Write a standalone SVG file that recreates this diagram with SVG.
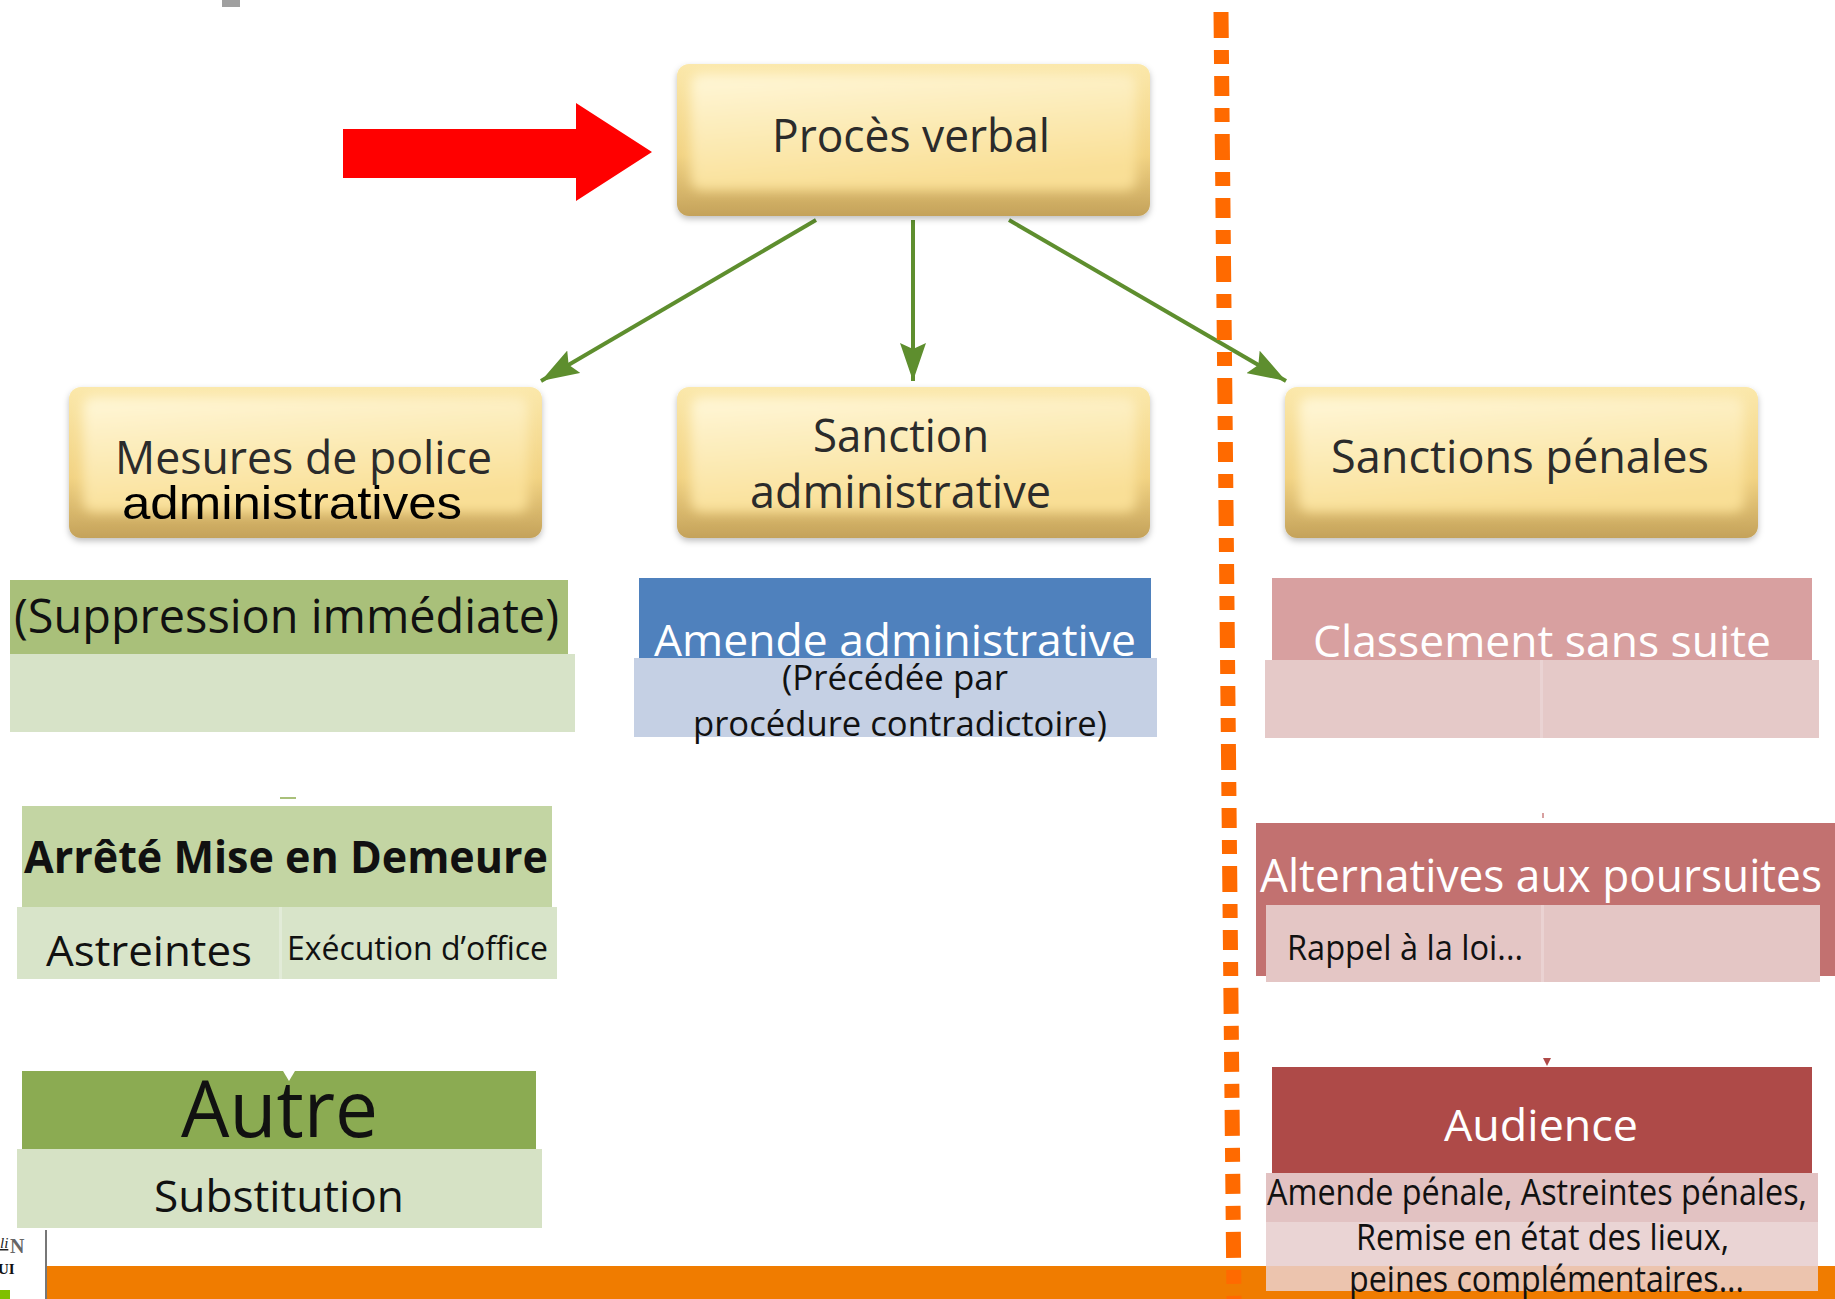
<svg xmlns="http://www.w3.org/2000/svg" width="1835" height="1299" viewBox="0 0 1835 1299">
<style>
.yt{font-family:"Open Sans","DejaVu Sans",sans-serif;fill:#2b2b2b}
.t{font-family:"Open Sans","DejaVu Sans",sans-serif;fill:#111}
.w{font-family:"Open Sans","DejaVu Sans",sans-serif;fill:#ffffff}
.conn{stroke:#5e8e2e;stroke-width:4;fill:none}
</style>
<defs>
<linearGradient id="yEdge" x1="0" y1="0" x2="0" y2="1">
<stop offset="0" stop-color="#fbe8ab"/>
<stop offset="0.6" stop-color="#f2d383"/>
<stop offset="1" stop-color="#c4a25a"/>
</linearGradient>
<linearGradient id="yFace" x1="0" y1="0" x2="0.3" y2="1">
<stop offset="0" stop-color="#fff7d8"/>
<stop offset="1" stop-color="#f9df96"/>
</linearGradient>
<filter id="blur6" x="-10%" y="-10%" width="120%" height="120%"><feGaussianBlur stdDeviation="6"/></filter>
<filter id="shadow" x="-5%" y="-5%" width="110%" height="120%"><feDropShadow dx="0" dy="3" stdDeviation="3" flood-color="#000" flood-opacity="0.25"/></filter>
<marker id="ah" markerUnits="userSpaceOnUse" markerWidth="40" markerHeight="26" refX="38" refY="13" orient="auto">
<path d="M0,0 L38,13 L0,26 L6,13 z" fill="#5e8e2e"/>
</marker>
</defs>

<rect x="0" y="0" width="1835" height="1299" fill="#ffffff"/>
<rect x="222" y="0" width="18" height="7" fill="#a0a0a0"/>

<g id="connectors">
<polygon points="343,129 576,129 576,103 652,152 576,201 576,178 343,178" fill="#ff0000"/>
<path class="conn" d="M816,220 L541,381" marker-end="url(#ah)"/>
<path class="conn" d="M913,220 L913,381" marker-end="url(#ah)"/>
<path class="conn" d="M1009,220 L1286,381" marker-end="url(#ah)"/>
</g>

<g id="n-pv">
<rect x="677" y="64" width="473" height="152" rx="12" fill="url(#yEdge)" filter="url(#shadow)"/>
<rect x="691" y="74" width="445" height="116" rx="10" fill="url(#yFace)" filter="url(#blur6)"/>
<text class="yt" x="772" y="152" font-size="46" textLength="278" lengthAdjust="spacingAndGlyphs">Procès verbal</text>
</g>

<g id="n-mesures">
<rect x="69" y="387" width="473" height="151" rx="12" fill="url(#yEdge)" filter="url(#shadow)"/>
<rect x="83" y="397" width="445" height="115" rx="10" fill="url(#yFace)" filter="url(#blur6)"/>
<text class="yt" x="115" y="474" font-size="46" textLength="377" lengthAdjust="spacingAndGlyphs">Mesures de police</text>
<text x="122" y="519" font-family="Liberation Sans, Arial, sans-serif" font-size="47" fill="#000" textLength="340" lengthAdjust="spacingAndGlyphs">administratives</text>
</g>

<g id="n-sanction-admin">
<rect x="677" y="387" width="473" height="151" rx="12" fill="url(#yEdge)" filter="url(#shadow)"/>
<rect x="691" y="397" width="445" height="115" rx="10" fill="url(#yFace)" filter="url(#blur6)"/>
<text class="yt" x="813" y="452" font-size="46" textLength="176" lengthAdjust="spacingAndGlyphs">Sanction</text>
<text class="yt" x="750" y="508" font-size="46" textLength="301" lengthAdjust="spacingAndGlyphs">administrative</text>
</g>

<g id="n-sanctions-penales">
<rect x="1285" y="387" width="473" height="151" rx="12" fill="url(#yEdge)" filter="url(#shadow)"/>
<rect x="1299" y="397" width="445" height="115" rx="10" fill="url(#yFace)" filter="url(#blur6)"/>
<text class="yt" x="1331" y="473" font-size="46" textLength="378" lengthAdjust="spacingAndGlyphs">Sanctions pénales</text>
</g>

<g id="n-suppression">
<rect x="10" y="580" width="558" height="75" fill="#a9c07a"/>
<rect x="10" y="654" width="565" height="78" fill="#d7e3c8"/>
<text class="t" x="14" y="633" font-size="47" textLength="545" lengthAdjust="spacingAndGlyphs">(Suppression immédiate)</text>
</g>

<g id="n-amende-admin">
<rect x="639" y="578" width="512" height="81" fill="#4f81bd"/>
<rect x="634" y="658" width="523" height="79" fill="#c5d0e4"/>
<text class="w" x="654" y="656" font-size="43" textLength="482" lengthAdjust="spacingAndGlyphs">Amende administrative</text>
<text class="t" x="782" y="690" font-size="35" textLength="226" lengthAdjust="spacingAndGlyphs">(Précédée par</text>
<text class="t" x="693" y="736" font-size="35" textLength="414" lengthAdjust="spacingAndGlyphs">procédure contradictoire)</text>
</g>

<g id="n-classement">
<rect x="1272" y="578" width="540" height="83" fill="#d8a0a0"/>
<rect x="1265" y="660" width="554" height="78" fill="#e5c9c8"/>
<rect x="1540" y="660" width="3" height="78" fill="#ead3d3"/>
<text class="w" x="1313" y="657" font-size="44" textLength="458" lengthAdjust="spacingAndGlyphs">Classement sans suite</text>
</g>

<g id="n-arrete">
<rect x="280" y="797" width="16" height="2" fill="#a9c07a"/>
<rect x="22" y="806" width="530" height="102" fill="#c3d5a3"/>
<rect x="17" y="907" width="540" height="72" fill="#d8e4c9"/>
<rect x="279" y="907" width="3" height="72" fill="#e2ebd8"/>
<text class="t" x="24" y="873" font-size="44" font-weight="bold" textLength="524" lengthAdjust="spacingAndGlyphs">Arrêté Mise en Demeure</text>
<text class="t" x="46" y="966" font-size="42" textLength="206" lengthAdjust="spacingAndGlyphs">Astreintes</text>
<text class="t" x="287" y="960" font-size="33" textLength="261" lengthAdjust="spacingAndGlyphs">Exécution d’office</text>
</g>

<g id="n-alternatives">
<rect x="1542" y="813" width="2" height="5" fill="#d8a0a0"/>
<rect x="1256" y="823" width="579" height="153" fill="#c27170"/>
<rect x="1266" y="905" width="554" height="77" fill="#e4c6c5"/>
<rect x="1541" y="905" width="3" height="77" fill="#ead2d2"/>
<text class="w" x="1260" y="892" font-size="46" textLength="562" lengthAdjust="spacingAndGlyphs">Alternatives aux poursuites</text>
<text class="t" x="1287" y="960" font-size="35" textLength="236" lengthAdjust="spacingAndGlyphs">Rappel à la loi...</text>
</g>

<g id="n-autre">
<rect x="22" y="1071" width="514" height="79" fill="#8bab52"/>
<polygon points="283,1071 295,1071 289,1081" fill="#ffffff"/>
<rect x="17" y="1149" width="525" height="79" fill="#d6e2c5"/>
<text class="t" x="181" y="1137" font-size="78" textLength="197" lengthAdjust="spacingAndGlyphs">Autre</text>
<text class="t" x="154" y="1212" font-size="44" textLength="250" lengthAdjust="spacingAndGlyphs">Substitution</text>
</g>

<g id="bottom-bar">
<rect x="46" y="1266" width="1789" height="33" fill="#f07c00"/>
<rect x="45" y="1230" width="2" height="69" fill="#777777"/>
<text x="0" y="1248" font-family="Liberation Serif, serif" font-size="15" font-style="italic" text-decoration="underline" fill="#222">li</text>
<text x="10" y="1253" font-family="Liberation Serif, serif" font-size="20" font-weight="bold" fill="#666">N</text>
<text x="-2" y="1274" font-family="Liberation Serif, serif" font-size="15" font-weight="bold" fill="#111">UI</text>
<rect x="0" y="1290" width="10" height="9" fill="#80c000"/>
</g>

<g id="n-audience">
<polygon points="1543,1058 1551,1058 1547,1066" fill="#ae4a48"/>
<rect x="1272" y="1067" width="540" height="107" fill="#ae4a48"/>
<rect x="1266" y="1173" width="552" height="49" fill="#e2c2c2"/>
<rect x="1266" y="1222" width="552" height="44" fill="#ead4d4"/>
<rect x="1266" y="1266" width="552" height="25" fill="#ead4d4" opacity="0.82"/>
<text class="w" x="1444" y="1141" font-size="44" textLength="194" lengthAdjust="spacingAndGlyphs">Audience</text>
<text class="t" x="1267" y="1205" font-size="36" textLength="540" lengthAdjust="spacingAndGlyphs">Amende pénale, Astreintes pénales,</text>
<text class="t" x="1356" y="1250" font-size="36" textLength="373" lengthAdjust="spacingAndGlyphs">Remise en état des lieux,</text>
<text class="t" x="1349" y="1292" font-size="36" textLength="395" lengthAdjust="spacingAndGlyphs">peines complémentaires...</text>
</g>

<g id="divider">
<line x1="1221" y1="12" x2="1234" y2="1299" stroke="#ff6a00" stroke-width="15" stroke-dasharray="26 12 14 12 20 12 14 12"/>
</g>
</svg>
